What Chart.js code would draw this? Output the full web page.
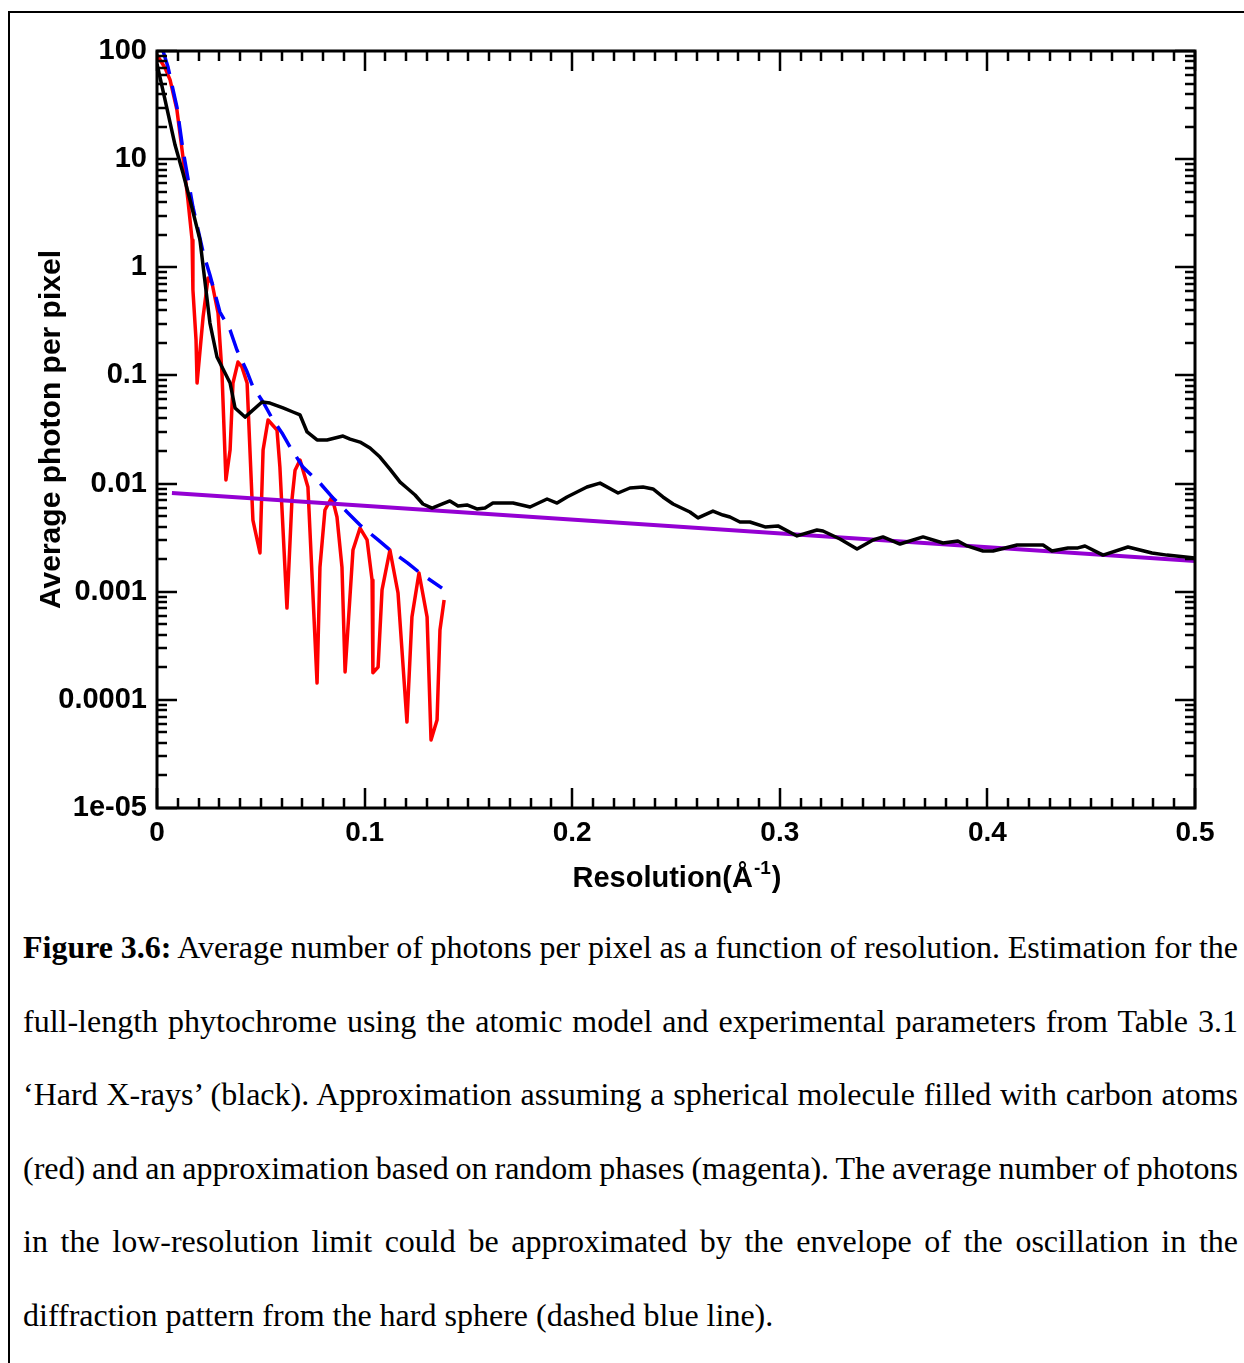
<!DOCTYPE html>
<html>
<head>
<meta charset="utf-8">
<title>Figure 3.6</title>
<script src="https://cdn.jsdelivr.net/npm/chart.js@4.4.0/dist/chart.umd.min.js"></script>
<style>
  html, body { margin: 0; padding: 0; background: #fff; overflow: hidden; }
  body { width: 1244px; height: 1363px; position: relative; }
  #frame { position: absolute; left: 8px; top: 11px; width: 1400px; height: 1500px;
           border-left: 2px solid #000; border-top: 2px solid #000; }
  #plot { position: absolute; left: 0; top: 0; }
  #caption { position: absolute; left: 23px; top: 911px; width: 1215px;
             font-family: 'Liberation Serif', 'Times New Roman', serif; font-size: 32px; color: #000; }
  #caption div { height: 73.6px; line-height: 73.6px; white-space: nowrap; word-spacing: -3px;
                 text-align: justify; text-align-last: justify; }
  #caption div.last { text-align-last: left; word-spacing: 0; }
</style>
</head>
<body>
<div id="frame"></div>
<canvas id="plot" width="1244" height="910"></canvas>
<div id="caption">
  <div><b>Figure 3.6:</b> Average number of photons per pixel as a function of resolution. Estimation for the</div>
  <div>full-length phytochrome using the atomic model and experimental parameters from Table 3.1</div>
  <div>‘Hard X-rays’ (black). Approximation assuming a spherical molecule filled with carbon atoms</div>
  <div>(red) and an approximation based on random phases (magenta). The average number of photons</div>
  <div>in the low-resolution limit could be approximated by the envelope of the oscillation in the</div>
  <div class="last">diffraction pattern from the hard sphere (dashed blue line).</div>
</div>
<script>
// Hard X-rays estimate (black)
const blackX = [0, 0.0039, 0.0087, 0.0125, 0.0159, 0.0207, 0.0255, 0.0289, 0.0352, 0.0376,
  0.0424, 0.0506, 0.0544, 0.0607, 0.0655, 0.0689, 0.0723, 0.0771, 0.0819, 0.0896,
  0.0930, 0.0978, 0.1026, 0.1074, 0.1122, 0.1171, 0.1204, 0.1243, 0.1281, 0.1325,
  0.1363, 0.1411, 0.1450, 0.1493, 0.1541, 0.1580, 0.1618, 0.1715, 0.1797, 0.1879,
  0.1927, 0.1975, 0.2023, 0.2071, 0.2134, 0.2221, 0.2278, 0.2341, 0.2389, 0.2437,
  0.2486, 0.2567, 0.2606, 0.2678, 0.2726, 0.2760, 0.2808, 0.2856, 0.2929, 0.2991,
  0.3083, 0.3179, 0.3208, 0.3290, 0.3372, 0.3449, 0.3497, 0.3579, 0.3690, 0.3786,
  0.3858, 0.3902, 0.3979, 0.4027, 0.4143, 0.4268, 0.4311, 0.4388, 0.4436, 0.4470,
  0.4557, 0.4677, 0.4793, 0.4865, 0.5];
const blackY = [76, 35.2, 13.5, 7.45, 4.19, 1.79, 0.305, 0.148, 0.0851, 0.050,
  0.0412, 0.0568, 0.0555, 0.050, 0.0459, 0.0431, 0.030, 0.0253, 0.0253, 0.0275,
  0.0258, 0.0242, 0.0213, 0.0176, 0.0136, 0.0103, 0.0091, 0.00784, 0.00647, 0.00594,
  0.00634, 0.0069, 0.00621, 0.00634, 0.00582, 0.00594, 0.00661, 0.00661, 0.00607, 0.0072,
  0.00661, 0.00752, 0.00836, 0.00929, 0.0101, 0.00818, 0.0091, 0.00929, 0.00891, 0.00752,
  0.00647, 0.00546, 0.00481, 0.00557, 0.00512, 0.00491, 0.00441, 0.00441, 0.00397, 0.00406,
  0.00328, 0.00372, 0.00364, 0.00307, 0.00248, 0.00301, 0.00321, 0.00276, 0.00321, 0.00282,
  0.00294, 0.00265, 0.00238, 0.00238, 0.0027, 0.0027, 0.00238, 0.00254, 0.00254, 0.00265,
  0.00218, 0.00259, 0.00228, 0.00218, 0.00205];

// Carbon-filled sphere approximation (red)
const redX = [0, 0.0039, 0.0063, 0.0096, 0.0125, 0.0149, 0.0169, 0.0173, 0.0188, 0.0193,
  0.0222, 0.0246, 0.0265, 0.0294, 0.0313, 0.0332, 0.0352, 0.0366, 0.0390, 0.0409,
  0.0434, 0.0462, 0.0496, 0.0511, 0.0535, 0.0578, 0.0592, 0.0626, 0.0650, 0.0665,
  0.0689, 0.0727, 0.0771, 0.0785, 0.0809, 0.0843, 0.0867, 0.0891, 0.0906, 0.0944,
  0.0978, 0.1012, 0.1036, 0.1040, 0.1065, 0.1084, 0.1122, 0.1161, 0.1204, 0.1228,
  0.1262, 0.1301, 0.1320, 0.1349, 0.1363, 0.1383];
const redY = [91.8, 69.6, 54.0, 28.5, 10.5, 4.19, 1.79, 0.617, 0.213, 0.0851,
  0.347, 0.796, 0.716, 0.378, 0.105, 0.0108, 0.0204, 0.0851, 0.133, 0.120,
  0.0851, 0.0046, 0.00228, 0.0204, 0.0387, 0.0313, 0.0142, 0.000706, 0.00705, 0.0133,
  0.0165, 0.00929, 0.000143, 0.00169, 0.0057, 0.00752, 0.00491, 0.00169, 0.000181, 0.00243,
  0.00388, 0.00301, 0.00128, 0.000178, 0.000201, 0.00104, 0.00243, 0.000973, 0.0000624, 0.000583,
  0.00149, 0.000583, 0.0000425, 0.000065, 0.000443, 0.000838];

// Envelope of the hard-sphere oscillation (dashed blue)
const blueX = [0.0029, 0.0053, 0.0096, 0.0125, 0.0173, 0.0222, 0.0255, 0.0303, 0.0352, 0.0385,
  0.0434, 0.0462, 0.0511, 0.0559, 0.0602, 0.0641, 0.0703, 0.0785, 0.0843, 0.0920,
  0.0978, 0.1065, 0.1122, 0.1208, 0.1267, 0.1373];
const blueY = [100, 71.1, 30.3, 12.2, 3.61, 1.38, 0.849, 0.386, 0.263, 0.172,
  0.108, 0.0782, 0.0568, 0.0387, 0.0294, 0.0218, 0.0142, 0.0101, 0.00752, 0.00535,
  0.00414, 0.00301, 0.00243, 0.00184, 0.00149, 0.00108];

// Random phases approximation (magenta)
const violetX = [0.0072, 0.5];
const violetY = [0.00818, 0.00192];

const xTickLabels = ['0', '0.1', '0.2', '0.3', '0.4', '0.5'];
const yTickValues = [1e-5, 1e-4, 1e-3, 1e-2, 0.1, 1, 10, 100];
const yTickLabels = ['1e-05', '0.0001', '0.001', '0.01', '0.1', '1', '10', '100'];

const FONT = "'Liberation Sans', Arial, Helvetica, sans-serif";
Chart.defaults.font.family = FONT;

const pts = (xs, ys) => xs.map((x, i) => ({ x: x, y: ys[i] }));

// Frame with inward ticks on all four sides, plus the x title with superscript
const frameTicks = {
    id: 'frameTicks',
    afterDraw(chart) {
        const { ctx, chartArea: a, scales: { x, y } } = chart;
        ctx.save();
        ctx.strokeStyle = '#000';
        ctx.lineWidth = 2.5;
        ctx.lineCap = 'butt';
        ctx.beginPath();
        for (let i = 0; i <= 50; i++) {
            const px = Math.round(x.getPixelForValue(i / 100));
            const len = i % 10 === 0 ? 20 : 10;
            ctx.moveTo(px, a.bottom); ctx.lineTo(px, a.bottom - len);
            ctx.moveTo(px, a.top); ctx.lineTo(px, a.top + len);
        }
        for (let e = -5; e <= 2; e++) {
            for (let k = 1; k <= 9; k++) {
                if (e === 2 && k > 1) break;
                const py = Math.round(y.getPixelForValue(k * Math.pow(10, e)));
                const len = k === 1 ? 20 : 10;
                ctx.moveTo(a.left, py); ctx.lineTo(a.left + len, py);
                ctx.moveTo(a.right, py); ctx.lineTo(a.right - len, py);
            }
        }
        ctx.stroke();
        ctx.lineWidth = 3;
        ctx.strokeRect(a.left, a.top, a.right - a.left, a.bottom - a.top);

        // x axis title: Resolution(Å^-1)
        const main = 'Resolution(Å', sup = '-1', close = ')';
        ctx.fillStyle = '#000';
        ctx.textBaseline = 'alphabetic';
        ctx.font = 'bold 29px ' + FONT;
        const w1 = ctx.measureText(main).width;
        const w3 = ctx.measureText(close).width;
        ctx.font = 'bold 19px ' + FONT;
        const w2 = ctx.measureText(sup).width;
        let sx = (a.left + a.right) / 2 - (w1 + w2 + w3) / 2;
        const base = a.bottom + 79;
        ctx.font = 'bold 29px ' + FONT;
        ctx.fillText(main, sx, base);
        sx += w1 + 1;
        ctx.font = 'bold 19px ' + FONT;
        ctx.fillText(sup, sx, base - 13);
        sx += w2 + 1;
        ctx.font = 'bold 29px ' + FONT;
        ctx.fillText(close, sx, base);
        ctx.restore();
    }
};

new Chart(document.getElementById('plot'), {
    type: 'line',
    data: {
        datasets: [
            { label: 'Hard X-rays', data: pts(blackX, blackY), borderColor: '#000000', borderWidth: 3.5, order: 0 },
            { label: 'Random phases', data: pts(violetX, violetY), borderColor: '#9400d3', borderWidth: 4, order: 1 },
            { label: 'Envelope', data: pts(blueX, blueY), borderColor: '#0000ff', borderWidth: 3.5, borderDash: [24, 12], order: 2 },
            { label: 'Carbon sphere', data: pts(redX, redY), borderColor: '#ff0000', borderWidth: 3.5, order: 3 }
        ]
    },
    options: {
        responsive: false,
        animation: false,
        devicePixelRatio: 1,
        layout: { padding: { top: 51, right: 49, left: 0, bottom: 0 } },
        elements: {
            point: { radius: 0 },
            line: { tension: 0, fill: false, borderJoinStyle: 'round' }
        },
        plugins: { legend: { display: false }, tooltip: { enabled: false } },
        scales: {
            x: {
                type: 'linear',
                min: 0,
                max: 0.5,
                grid: { display: false },
                border: { display: false },
                ticks: {
                    stepSize: 0.1,
                    autoSkip: false,
                    maxRotation: 0,
                    padding: 0,
                    color: '#000',
                    font: { size: 28, weight: 'bold' },
                    callback: v => xTickLabels[Math.round(v * 10)]
                },
                afterFit: s => { s.height = 102; }
            },
            y: {
                type: 'logarithmic',
                min: 1e-5,
                max: 100,
                grid: { display: false },
                border: { display: false },
                afterBuildTicks: s => { s.ticks = yTickValues.map(v => ({ value: v })); },
                ticks: {
                    autoSkip: false,
                    padding: 2,
                    color: '#000',
                    font: { size: 29, weight: 'bold' },
                    callback: v => yTickLabels[Math.round(Math.log10(v)) + 5]
                },
                title: {
                    display: true,
                    text: 'Average photon per pixel',
                    color: '#000',
                    font: { size: 30, weight: 'bold' },
                    padding: { top: 34, bottom: 0 }
                },
                afterFit: s => { s.width = 157; }
            }
        }
    },
    plugins: [frameTicks]
});
</script>
</body>
</html>
